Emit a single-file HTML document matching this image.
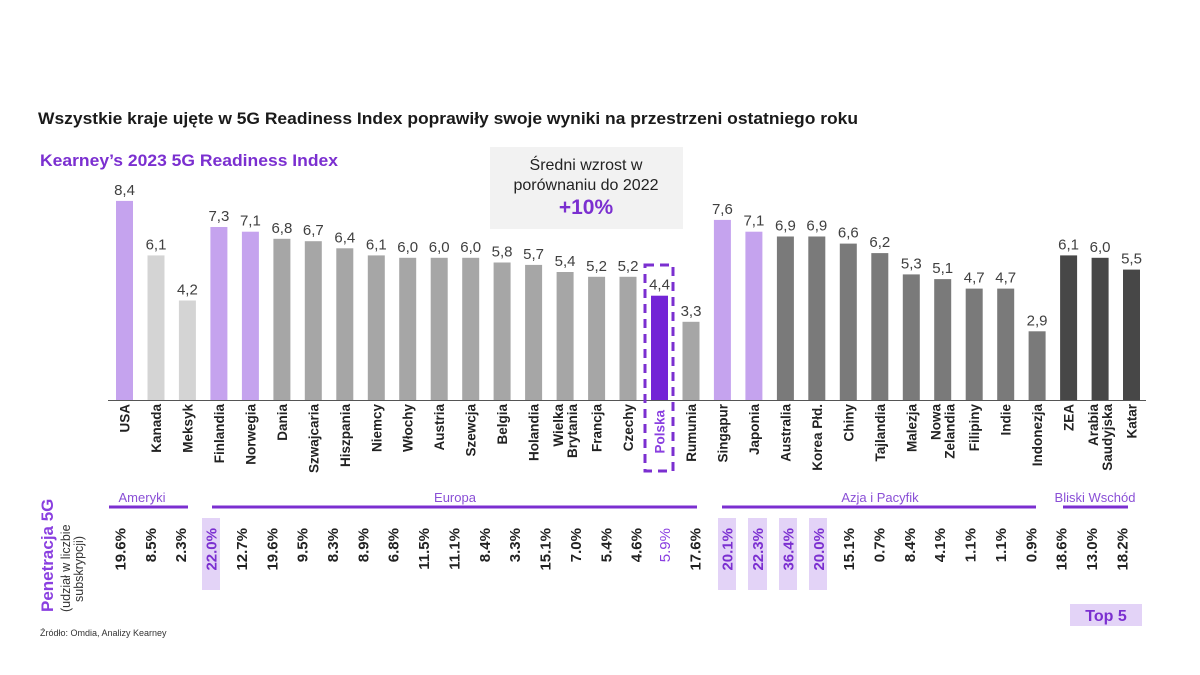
<!DOCTYPE html>
<html><head><meta charset="utf-8"><style>
html,body{margin:0;padding:0;background:#fff;}
svg{display:block;font-family:"Liberation Sans",Arial,sans-serif;}
</style></head><body>
<svg width="1200" height="675" viewBox="0 0 1200 675" xmlns="http://www.w3.org/2000/svg">
<text x="38" y="124" font-size="16.5" font-weight="bold" fill="#1a1a1a" textLength="820" lengthAdjust="spacingAndGlyphs">Wszystkie kraje ujęte w 5G Readiness Index poprawiły swoje wyniki na przestrzeni ostatniego roku</text>
<text x="40" y="166" font-size="16.5" font-weight="bold" fill="#7b2fd0" textLength="298" lengthAdjust="spacingAndGlyphs">Kearney’s 2023 5G Readiness Index</text>
<rect x="490" y="147" width="193" height="82" fill="#f2f2f2"/>
<text x="586" y="170" font-size="16" fill="#222" text-anchor="middle">Średni wzrost w</text>
<text x="586" y="190" font-size="16" fill="#222" text-anchor="middle">porównaniu do 2022</text>
<text x="586" y="214" font-size="21" font-weight="bold" fill="#7b2fd0" text-anchor="middle">+10%</text>

<g>
<rect x="116" y="200.9" width="17" height="199.1" fill="#c5a3ee"/>
<rect x="147.5" y="255.4" width="17" height="144.6" fill="#d4d4d4"/>
<rect x="178.9" y="300.5" width="17" height="99.5" fill="#d4d4d4"/>
<rect x="210.4" y="227" width="17" height="173" fill="#c5a3ee"/>
<rect x="241.9" y="231.7" width="17" height="168.3" fill="#c5a3ee"/>
<rect x="273.4" y="238.8" width="17" height="161.2" fill="#a6a6a6"/>
<rect x="304.8" y="241.2" width="17" height="158.8" fill="#a6a6a6"/>
<rect x="336.3" y="248.3" width="17" height="151.7" fill="#a6a6a6"/>
<rect x="367.8" y="255.4" width="17" height="144.6" fill="#a6a6a6"/>
<rect x="399.2" y="257.8" width="17" height="142.2" fill="#a6a6a6"/>
<rect x="430.7" y="257.8" width="17" height="142.2" fill="#a6a6a6"/>
<rect x="462.2" y="257.8" width="17" height="142.2" fill="#a6a6a6"/>
<rect x="493.6" y="262.5" width="17" height="137.5" fill="#a6a6a6"/>
<rect x="525.1" y="264.9" width="17" height="135.1" fill="#a6a6a6"/>
<rect x="556.6" y="272" width="17" height="128" fill="#a6a6a6"/>
<rect x="588.1" y="276.8" width="17" height="123.2" fill="#a6a6a6"/>
<rect x="619.5" y="276.8" width="17" height="123.2" fill="#a6a6a6"/>
<rect x="651" y="295.7" width="17" height="104.3" fill="#7324d6"/>
<rect x="682.5" y="321.8" width="17" height="78.2" fill="#a6a6a6"/>
<rect x="713.9" y="219.9" width="17" height="180.1" fill="#c5a3ee"/>
<rect x="745.4" y="231.7" width="17" height="168.3" fill="#c5a3ee"/>
<rect x="776.9" y="236.5" width="17" height="163.5" fill="#7a7a7a"/>
<rect x="808.3" y="236.5" width="17" height="163.5" fill="#7a7a7a"/>
<rect x="839.8" y="243.6" width="17" height="156.4" fill="#7a7a7a"/>
<rect x="871.3" y="253.1" width="17" height="146.9" fill="#7a7a7a"/>
<rect x="902.8" y="274.4" width="17" height="125.6" fill="#7a7a7a"/>
<rect x="934.2" y="279.1" width="17" height="120.9" fill="#7a7a7a"/>
<rect x="965.7" y="288.6" width="17" height="111.4" fill="#7a7a7a"/>
<rect x="997.2" y="288.6" width="17" height="111.4" fill="#7a7a7a"/>
<rect x="1028.6" y="331.3" width="17" height="68.7" fill="#7a7a7a"/>
<rect x="1060.1" y="255.4" width="17" height="144.6" fill="#474747"/>
<rect x="1091.6" y="257.8" width="17" height="142.2" fill="#474747"/>
<rect x="1123" y="269.6" width="17" height="130.4" fill="#474747"/>
</g>

<g font-size="15" fill="#404040" text-anchor="middle">
<text x="124.5" y="194.9">8,4</text>
<text x="156" y="249.4">6,1</text>
<text x="187.4" y="294.5">4,2</text>
<text x="218.9" y="221">7,3</text>
<text x="250.4" y="225.7">7,1</text>
<text x="281.9" y="232.8">6,8</text>
<text x="313.3" y="235.2">6,7</text>
<text x="344.8" y="242.3">6,4</text>
<text x="376.3" y="249.4">6,1</text>
<text x="407.7" y="251.8">6,0</text>
<text x="439.2" y="251.8">6,0</text>
<text x="470.7" y="251.8">6,0</text>
<text x="502.1" y="256.5">5,8</text>
<text x="533.6" y="258.9">5,7</text>
<text x="565.1" y="266">5,4</text>
<text x="596.6" y="270.8">5,2</text>
<text x="628" y="270.8">5,2</text>
<text x="659.5" y="289.7">4,4</text>
<text x="691" y="315.8">3,3</text>
<text x="722.4" y="213.9">7,6</text>
<text x="753.9" y="225.7">7,1</text>
<text x="785.4" y="230.5">6,9</text>
<text x="816.8" y="230.5">6,9</text>
<text x="848.3" y="237.6">6,6</text>
<text x="879.8" y="247.1">6,2</text>
<text x="911.3" y="268.4">5,3</text>
<text x="942.7" y="273.1">5,1</text>
<text x="974.2" y="282.6">4,7</text>
<text x="1005.7" y="282.6">4,7</text>
<text x="1037.1" y="325.3">2,9</text>
<text x="1068.6" y="249.4">6,1</text>
<text x="1100.1" y="251.8">6,0</text>
<text x="1131.5" y="263.6">5,5</text>
</g>

<line x1="108" y1="400.5" x2="1146" y2="400.5" stroke="#555" stroke-width="1"/>

<g font-size="13.5" font-weight="bold" fill="#222" text-anchor="end">
<text transform="translate(129.5,404) rotate(-90)">USA</text>
<text transform="translate(161,404) rotate(-90)">Kanada</text>
<text transform="translate(192.4,404) rotate(-90)">Meksyk</text>
<text transform="translate(223.9,404) rotate(-90)">Finlandia</text>
<text transform="translate(255.4,404) rotate(-90)">Norwegia</text>
<text transform="translate(286.9,404) rotate(-90)">Dania</text>
<text transform="translate(318.3,404) rotate(-90)">Szwajcaria</text>
<text transform="translate(349.8,404) rotate(-90)">Hiszpania</text>
<text transform="translate(381.3,404) rotate(-90)">Niemcy</text>
<text transform="translate(412.7,404) rotate(-90)">Włochy</text>
<text transform="translate(444.2,404) rotate(-90)">Austria</text>
<text transform="translate(475.7,404) rotate(-90)">Szewcja</text>
<text transform="translate(507.1,404) rotate(-90)">Belgia</text>
<text transform="translate(538.6,404) rotate(-90)">Holandia</text>
<text transform="translate(563.1,404) rotate(-90)">Wielka</text>
<text transform="translate(577.1,404) rotate(-90)">Brytania</text>
<text transform="translate(601.6,404) rotate(-90)">Francja</text>
<text transform="translate(633,404) rotate(-90)">Czechy</text>
<text transform="translate(664.5,410) rotate(-90)" fill="#8a3fe0">Polska</text>
<text transform="translate(696,404) rotate(-90)">Rumunia</text>
<text transform="translate(727.4,404) rotate(-90)">Singapur</text>
<text transform="translate(758.9,404) rotate(-90)">Japonia</text>
<text transform="translate(790.4,404) rotate(-90)">Australia</text>
<text transform="translate(821.8,404) rotate(-90)">Korea Płd.</text>
<text transform="translate(853.3,404) rotate(-90)">Chiny</text>
<text transform="translate(884.8,404) rotate(-90)">Tajlandia</text>
<text transform="translate(916.3,404) rotate(-90)">Malezja</text>
<text transform="translate(940.7,404) rotate(-90)">Nowa</text>
<text transform="translate(954.7,404) rotate(-90)">Zelandia</text>
<text transform="translate(979.2,404) rotate(-90)">Filipiny</text>
<text transform="translate(1010.7,404) rotate(-90)">Indie</text>
<text transform="translate(1042.1,404) rotate(-90)">Indonezja</text>
<text transform="translate(1073.6,404) rotate(-90)">ZEA</text>
<text transform="translate(1098.1,404) rotate(-90)">Arabia</text>
<text transform="translate(1112.1,404) rotate(-90)">Saudyjska</text>
<text transform="translate(1136.5,404) rotate(-90)">Katar</text>
</g>

<rect x="645" y="265" width="28" height="206" fill="none" stroke="#7b2fd0" stroke-width="3" stroke-dasharray="9,6"/>

<g font-size="13" fill="#8a4fd6" text-anchor="middle">
<text x="142" y="502">Ameryki</text>
<text x="455" y="502">Europa</text>
<text x="880" y="502">Azja i Pacyfik</text>
<text x="1095" y="502">Bliski Wschód</text>
</g>
<g stroke="#7b2fd0" stroke-width="3">
<line x1="109" y1="507" x2="188" y2="507"/>
<line x1="212" y1="507" x2="697" y2="507"/>
<line x1="722" y1="507" x2="1036" y2="507"/>
<line x1="1063" y1="507" x2="1128" y2="507"/>
</g>

<g fill="#e3d3f7">
<rect x="202" y="518" width="18" height="72"/>
<rect x="718" y="518" width="18" height="72"/>
<rect x="748" y="518" width="19" height="72"/>
<rect x="779" y="518" width="18" height="72"/>
<rect x="809" y="518" width="18" height="72"/>
</g>

<g font-size="15" font-weight="bold" fill="#222" text-anchor="end">
<text transform="translate(125.5,528) rotate(-90)">19.6%</text>
<text transform="translate(155.9,528) rotate(-90)">8.5%</text>
<text transform="translate(186.2,528) rotate(-90)">2.3%</text>
<text transform="translate(216.6,528) rotate(-90)" fill="#7b2fd0">22.0%</text>
<text transform="translate(246.9,528) rotate(-90)">12.7%</text>
<text transform="translate(277.3,528) rotate(-90)">19.6%</text>
<text transform="translate(307.7,528) rotate(-90)">9.5%</text>
<text transform="translate(338,528) rotate(-90)">8.3%</text>
<text transform="translate(368.4,528) rotate(-90)">8.9%</text>
<text transform="translate(398.7,528) rotate(-90)">6.8%</text>
<text transform="translate(429.1,528) rotate(-90)">11.5%</text>
<text transform="translate(459.5,528) rotate(-90)">11.1%</text>
<text transform="translate(489.8,528) rotate(-90)">8.4%</text>
<text transform="translate(520.2,528) rotate(-90)">3.3%</text>
<text transform="translate(550.5,528) rotate(-90)">15.1%</text>
<text transform="translate(580.9,528) rotate(-90)">7.0%</text>
<text transform="translate(611.3,528) rotate(-90)">5.4%</text>
<text transform="translate(641.6,528) rotate(-90)">4.6%</text>
<text transform="translate(670,528) rotate(-90)" fill="#8a3fe0" font-weight="normal">5.9%</text>
<text transform="translate(700.3,528) rotate(-90)">17.6%</text>
<text transform="translate(732.7,528) rotate(-90)" fill="#7b2fd0">20.1%</text>
<text transform="translate(763.1,528) rotate(-90)" fill="#7b2fd0">22.3%</text>
<text transform="translate(793.4,528) rotate(-90)" fill="#7b2fd0">36.4%</text>
<text transform="translate(823.8,528) rotate(-90)" fill="#7b2fd0">20.0%</text>
<text transform="translate(854.1,528) rotate(-90)">15.1%</text>
<text transform="translate(884.5,528) rotate(-90)">0.7%</text>
<text transform="translate(914.9,528) rotate(-90)">8.4%</text>
<text transform="translate(945.2,528) rotate(-90)">4.1%</text>
<text transform="translate(975.6,528) rotate(-90)">1.1%</text>
<text transform="translate(1005.9,528) rotate(-90)">1.1%</text>
<text transform="translate(1036.3,528) rotate(-90)">0.9%</text>
<text transform="translate(1066.7,528) rotate(-90)">18.6%</text>
<text transform="translate(1097,528) rotate(-90)">13.0%</text>
<text transform="translate(1127.4,528) rotate(-90)">18.2%</text>
</g>

<text transform="translate(53,612) rotate(-90)" font-size="17" font-weight="bold" fill="#8a3fe0">Penetracja 5G</text>
<text transform="translate(70,612) rotate(-90)" font-size="12.5" fill="#333">(udział w liczbie</text>
<text transform="translate(83,602) rotate(-90)" font-size="12.5" fill="#333">subskrypcji)</text>
<text x="40" y="636" font-size="9" fill="#333">Źródło: Omdia, Analizy Kearney</text>
<rect x="1070" y="604" width="72" height="22" fill="#e3d3f7"/>
<text x="1106" y="621" font-size="16" font-weight="bold" fill="#7b2fd0" text-anchor="middle">Top 5</text>
</svg>
</body></html>
